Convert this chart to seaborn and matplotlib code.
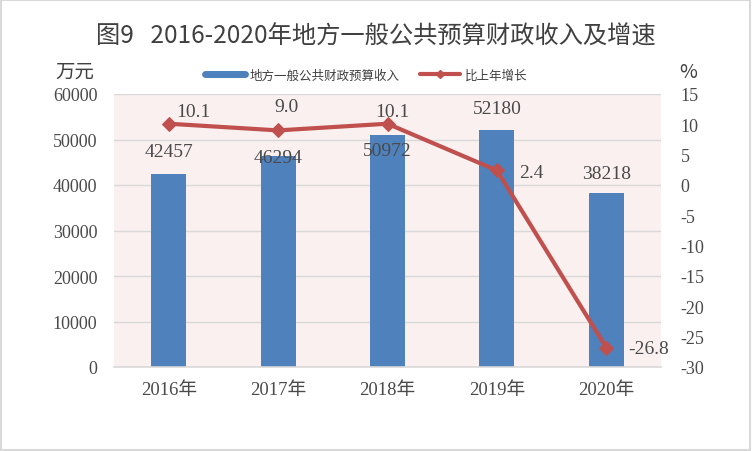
import numpy as np
import pandas as pd
import matplotlib
matplotlib.use("Agg")
import matplotlib.pyplot as plt
import seaborn as sns
from matplotlib.lines import Line2D
from matplotlib.patches import Rectangle

years = ["2016年", "2017年", "2018年", "2019年", "2020年"]
revenue = [42457, 46294, 50972, 52180, 38218]
growth = [10.1, 9.0, 10.1, 2.4, -26.8]
growth_labels = ["10.1", "9.0", "10.1", "2.4", "-26.8"]
left_ticks = [0, 10000, 20000, 30000, 40000, 50000, 60000]
right_ticks = [-30, -25, -20, -15, -10, -5, 0, 5, 10, 15]
title = "图9   2016-2020年地方一般公共预算财政收入及增速"
series_names = ["地方一般公共财政预算收入", "比上年增长"]

# label offsets in pixels (dx, dy) relative to the mark
bar_label_dy = [22, -1, -15, 21, 20]
line_label_off = [(25, 12), (8, 24), (5, 12), (34, -2), (42, -1)]

sns.set_theme(style="white")
plt.rcParams['font.family'] = ['Liberation Serif', 'Noto Sans CJK SC', 'DejaVu Sans']

BLUE = "#4F81BD"
RED = "#C0504D"
TXT = "#404040"
NUM = "#4A4A4A"
GRID = "#D9D9D9"
BG = "#FAF0EF"

fig = plt.figure(figsize=(7.52, 4.52), dpi=100)
fig.patch.set_facecolor("white")
ax = fig.add_axes([114 / 752, 1 - 368 / 452, 547 / 752, 273 / 452])
ax.set_facecolor(BG)

df = pd.DataFrame({"year": years, "revenue": revenue, "growth": growth})
sns.barplot(data=df, x="year", y="revenue", color=BLUE, width=0.32,
            saturation=1, ax=ax, zorder=2, linewidth=0, edgecolor=BLUE)
ax.set_xlim(-0.5, 4.5)
ax.set_ylim(0, 60000)
ax.set_yticks(left_ticks)
ax.set_yticklabels([str(t) for t in left_ticks])
ax.yaxis.grid(True, color=GRID, lw=1, zorder=0)
ax.set_axisbelow(True)
ax.set_xlabel("")
ax.set_ylabel("")
for s in ["top", "right", "left"]:
    ax.spines[s].set_visible(False)
ax.spines["bottom"].set_color(GRID)
ax.spines["bottom"].set_linewidth(1.2)
ax.tick_params(axis="both", length=0, colors=NUM)
ax.tick_params(axis="y", labelsize=13, pad=12)
ax.tick_params(axis="x", labelsize=13.5, pad=10)

for i, (v, dy) in enumerate(zip(revenue, bar_label_dy)):
    ax.annotate(str(v), xy=(i, v), xytext=(0, dy), textcoords="offset pixels",
                ha="center", va="center", fontsize=14, color=NUM, zorder=5)

ax2 = ax.twinx()
sns.lineplot(x=np.arange(len(years)), y=growth, ax=ax2, color=RED, lw=3,
             marker="D", markersize=7, markeredgecolor=RED, zorder=4)
ax2.set_ylim(-30, 15)
ax2.set_yticks(right_ticks)
ax2.set_yticklabels([str(t) for t in right_ticks])
ax2.set_xlim(-0.5, 4.5)
for s in ["top", "right", "left", "bottom"]:
    ax2.spines[s].set_visible(False)
ax2.tick_params(axis="y", length=0, colors=NUM, labelsize=13, pad=14)
ax2.grid(False)

for i, (v, lab, off) in enumerate(zip(growth, growth_labels, line_label_off)):
    ax2.annotate(lab, xy=(i, v), xytext=off, textcoords="offset pixels",
                 ha="center", va="center", fontsize=14, color=NUM)

fig.text(0.5, 1 - 37 / 452, title, ha="center", va="center", fontsize=17.5,
         color=TXT, family=['Noto Sans CJK SC', 'DejaVu Sans'])
fig.text(75 / 752, 1 - 72 / 452, "万元", ha="center", va="center", fontsize=14,
         color=TXT, family=['Noto Sans CJK SC'])
fig.text(688 / 752, 1 - 72 / 452, "%", ha="center", va="center", fontsize=14,
         color=TXT, family=['Noto Sans CJK SC'])

handles = [Line2D([], [], color=BLUE, lw=5),
           Line2D([], [], color=RED, lw=3, marker="D", markersize=4)]
leg = fig.legend(handles, series_names, loc="center", bbox_to_anchor=(366 / 752, 1 - 76 / 452),
                 ncol=2, frameon=False, handlelength=3.2, columnspacing=1.6,
                 handletextpad=0.4, prop={'family': ['Noto Sans CJK SC'], 'size': 9})
for t in leg.get_texts():
    t.set_color(TXT)

fig.patches.append(Rectangle((0.001, 0.002), 0.996, 0.995, transform=fig.transFigure,
                             fill=False, edgecolor=GRID, lw=1.5))

fig.savefig("out.png", dpi=100)
